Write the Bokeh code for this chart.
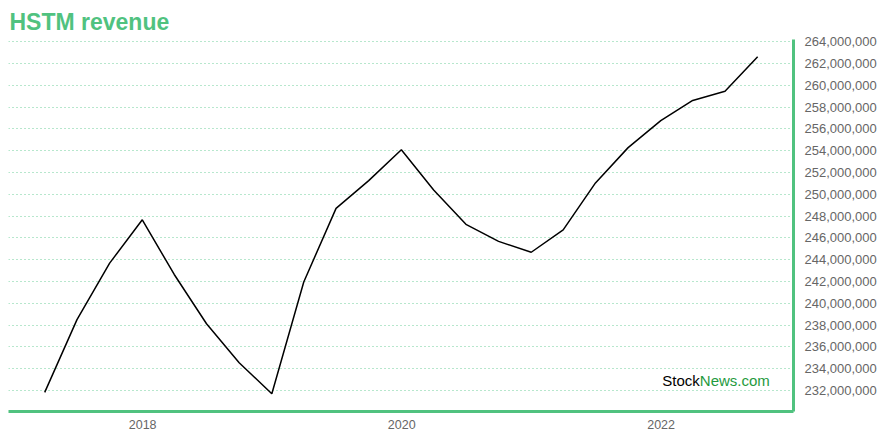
from datetime import datetime
from bokeh.plotting import figure
from bokeh.models import (Range1d, LinearAxis, DatetimeAxis, FixedTicker,
                          SingleIntervalTicker, NumeralTickFormatter,
                          DatetimeTickFormatter, Label)
from bokeh.embed import file_html
from bokeh.resources import INLINE

quarters = ["2017-03-31", "2017-06-30", "2017-09-30", "2017-12-31",
            "2018-03-31", "2018-06-30", "2018-09-30", "2018-12-31",
            "2019-03-31", "2019-06-30", "2019-09-30", "2019-12-31",
            "2020-03-31", "2020-06-30", "2020-09-30", "2020-12-31",
            "2021-03-31", "2021-06-30", "2021-09-30", "2021-12-31",
            "2022-03-31", "2022-06-30", "2022-09-30"]
revenue = [231820000, 238500000, 243680000, 247660000,
           242640000, 238120000, 234540000, 231700000,
           241950000, 248710000, 251250000, 254090000,
           250390000, 247240000, 245680000, 244680000,
           246730000, 251040000, 254280000, 256760000,
           258610000, 259450000, 262610000]
year_ticks = ["2018-01-01", "2020-01-01", "2022-01-01"]
title_text = "HSTM revenue"

GREEN = "#50c27f"
GRID = "#6fcf9b"

dates = [datetime.strptime(d, "%Y-%m-%d") for d in quarters]
tick_ms = [datetime.strptime(d, "%Y-%m-%d").timestamp() * 1000 for d in year_ticks]

p = figure(width=880, height=440, output_backend="svg", toolbar_location=None,
           x_axis_type=None, y_axis_location=None,
           x_range=Range1d(datetime(2016, 12, 19), datetime(2023, 1, 9)),
           y_range=Range1d(230070000, 264200000),
           min_border_left=8, min_border_right=87, min_border_top=39,
           min_border_bottom=29, title=title_text)

p.title.text_font = "Liberation Sans"
p.title.text_font_size = "23px"
p.title.text_font_style = "bold"
p.title.text_color = GREEN
p.title.align = "left"
p.title.offset = 1
p.outline_line_color = None

xaxis = DatetimeAxis(ticker=FixedTicker(ticks=tick_ms),
                     formatter=DatetimeTickFormatter(years="%Y", months="%Y", days="%Y",
                                                     hours="%Y", minutes="%Y"))
xaxis.axis_line_color = GREEN
xaxis.axis_line_width = 3
xaxis.major_tick_line_color = None
xaxis.minor_tick_line_color = None
xaxis.major_label_text_color = "#666666"
xaxis.major_label_text_font = "Liberation Sans"
xaxis.major_label_text_font_size = "12.5px"
xaxis.major_label_standoff = 2
p.add_layout(xaxis, "below")

yaxis = LinearAxis(ticker=SingleIntervalTicker(interval=2000000),
                   formatter=NumeralTickFormatter(format="0,0"))
yaxis.axis_line_color = GREEN
yaxis.axis_line_width = 3
yaxis.major_tick_line_color = None
yaxis.minor_tick_line_color = None
yaxis.major_label_text_color = "#666666"
yaxis.major_label_text_font = "Liberation Sans"
yaxis.major_label_text_font_size = "13px"
yaxis.major_label_standoff = 5
p.add_layout(yaxis, "right")

p.xgrid.ticker = xaxis.ticker
p.ygrid.ticker = yaxis.ticker
for g in (p.xgrid, p.ygrid):
    g.grid_line_color = GRID
    g.grid_line_dash = "1 3"
    g.grid_line_width = 1

p.line(dates, revenue, line_color="black", line_width=1.5)

p.add_layout(Label(x=datetime(2022, 4, 20), y=232950000, text="Stock",
                   text_align="right", text_baseline="alphabetic",
                   text_font="Liberation Sans", text_font_size="15px",
                   text_color="black"))
p.add_layout(Label(x=datetime(2022, 4, 20), y=232950000, text="News.com",
                   text_align="left", text_baseline="alphabetic",
                   text_font="Liberation Sans", text_font_size="15px",
                   text_color="#1f9a3e"))

open("out.html", "w").write(file_html(p, INLINE))
